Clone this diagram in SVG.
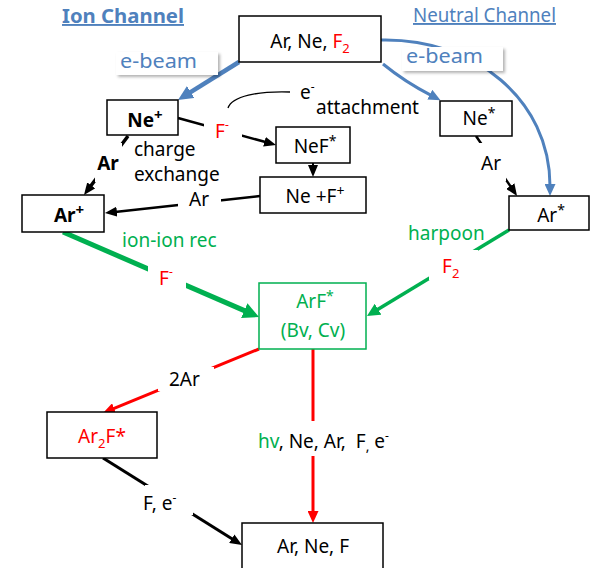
<svg xmlns="http://www.w3.org/2000/svg" width="593" height="568" viewBox="0 0 593 568">
<defs>
<style>
text{font-family:"Noto Sans","Liberation Sans",sans-serif;font-size:19px;fill:#000}
.box{fill:#fff;stroke:#000;stroke-width:1.5}
.gbox{fill:#fff;stroke:#00B050;stroke-width:1.5}
.blue{fill:#4F81BD}
.green{fill:#00B050}
.red{fill:#FF0000}
.c{text-anchor:middle}
.b{font-weight:bold}
.bg{fill:#fff}
.k{fill:none;stroke:#000}
.bl{fill:none;stroke:#4F81BD}
.gr{fill:none;stroke:#00B050}
.rd{fill:none;stroke:#FF0000}
.pre{white-space:pre}
</style>
<filter id="sh" x="-10%" y="-20%" width="130%" height="160%">
<feDropShadow dx="2" dy="2" stdDeviation="1.5" flood-color="#000" flood-opacity="0.3"/>
</filter>
<marker id="mk" markerUnits="userSpaceOnUse" markerWidth="12" markerHeight="10" viewBox="0 0 12 10" refX="2" refY="5" orient="auto"><path d="M0,0 L12,5 L0,10 z" fill="#000"/></marker>
<marker id="mb" markerUnits="userSpaceOnUse" markerWidth="15" markerHeight="14" viewBox="0 0 15 14" refX="2" refY="7" orient="auto"><path d="M0,0 L15,7 L0,14 z" fill="#4F81BD"/></marker>
<marker id="mbs" markerUnits="userSpaceOnUse" markerWidth="12" markerHeight="11" viewBox="0 0 12 11" refX="2" refY="5.5" orient="auto"><path d="M0,0 L12,5.5 L0,11 z" fill="#4F81BD"/></marker>
<marker id="mg" markerUnits="userSpaceOnUse" markerWidth="16" markerHeight="16" viewBox="0 0 16 16" refX="2" refY="8" orient="auto"><path d="M0,0 L16,8 L0,16 z" fill="#00B050"/></marker>
<marker id="mgs" markerUnits="userSpaceOnUse" markerWidth="13" markerHeight="13" viewBox="0 0 13 13" refX="2" refY="6.5" orient="auto"><path d="M0,0 L13,6.5 L0,13 z" fill="#00B050"/></marker>
<marker id="mr" markerUnits="userSpaceOnUse" markerWidth="12" markerHeight="11" viewBox="0 0 12 11" refX="2" refY="5.5" orient="auto"><path d="M0,0 L12,5.5 L0,11 z" fill="#FF0000"/></marker>
</defs>

<g id="titles">
<text x="62" y="23" class="blue b" font-size="20" textLength="122" lengthAdjust="spacingAndGlyphs" text-decoration="underline">Ion Channel</text>
<text x="413" y="22" class="blue" textLength="143" lengthAdjust="spacingAndGlyphs" text-decoration="underline">Neutral Channel</text>
</g>

<g id="connectors">
<path class="bl" stroke-width="4.5" d="M239,62 L189,93.1" marker-end="url(#mb)"/>
<path class="bl" stroke-width="3" d="M383,64 Q405,82 431.6,95.6" marker-end="url(#mbs)"/>
<path class="bl" stroke-width="3" d="M381,40 C475,38 550,100 550,186" marker-end="url(#mbs)"/>
<path class="k" stroke-width="3.5" d="M128,136 L90,187" marker-end="url(#mk)"/>
<path class="k" stroke-width="2.5" d="M178,118 L266.4,142.3" marker-end="url(#mk)"/>
<path class="k" stroke-width="2" d="M313,163 L313,167" marker-end="url(#mk)"/>
<path class="k" stroke-width="2.5" d="M260,196 L114.9,211.9" marker-end="url(#mk)"/>
<path class="k" stroke-width="2.5" d="M476,136 L511.4,187.7" marker-end="url(#mk)"/>
<path class="gr" stroke-width="5" d="M63,232 L246.1,311.4" marker-end="url(#mg)"/>
<path class="gr" stroke-width="3.5" d="M509,230 L376.4,310.3" marker-end="url(#mgs)"/>
<path class="rd" stroke-width="3" d="M259,349 L112.3,409.2" marker-end="url(#mr)"/>
<path class="rd" stroke-width="3" d="M313,349 L313,513" marker-end="url(#mr)"/>
<path class="k" stroke-width="3" d="M103,458 L233.5,539.7" marker-end="url(#mk)"/>
<path class="k" stroke-width="1.3" d="M228,108 C232,96 258,91 290,92"/>
</g>

<g id="labels">
<g id="lbl-ebeam-left">
<rect x="116" y="52" width="102" height="23" class="bg" filter="url(#sh)"/>
<text x="120" y="68" class="blue" font-size="22" textLength="77" lengthAdjust="spacingAndGlyphs">e-beam</text>
</g>
<g id="lbl-ebeam-right">
<rect x="402" y="47" width="101" height="24" class="bg" filter="url(#sh)"/>
<text x="406" y="63" class="blue" font-size="22" textLength="77" lengthAdjust="spacingAndGlyphs">e-beam</text>
</g>
<g id="lbl-attach">
<text x="300" y="99">e<tspan dy="-8" font-size="12">-</tspan></text>
<text x="316" y="114">attachment</text>
</g>
<g id="lbl-ar-bold">
<rect x="95" y="143" width="27" height="39" class="bg"/>
<text x="108" y="170" class="c b">Ar</text>
</g>
<text x="134" y="156">charge</text>
<text x="134" y="181">exchange</text>
<g id="lbl-fminus-1">
<rect x="204" y="114" width="38" height="29" class="bg"/>
<text x="215" y="138" class="red" font-size="20">F<tspan dy="-9" font-size="12">-</tspan></text>
</g>
<g id="lbl-ar-2">
<rect x="178" y="189" width="43" height="24" class="bg"/>
<text x="199" y="206" class="c">Ar</text>
</g>
<g id="lbl-ar-3">
<rect x="478" y="143" width="28" height="38" class="bg"/>
<text x="491" y="170" class="c">Ar</text>
</g>
<text x="122" y="247" class="green">ion-ion rec</text>
<g id="lbl-fminus-2">
<rect x="148" y="263" width="38" height="29" class="bg"/>
<text x="159" y="285" class="red" font-size="20">F<tspan dy="-9" font-size="12">-</tspan></text>
</g>
<text x="408" y="240" class="green">harpoon</text>
<g id="lbl-f2">
<rect x="429" y="250" width="49" height="30" class="bg"/>
<text x="442" y="273" class="red" font-size="20">F<tspan dy="5" font-size="13">2</tspan></text>
</g>
<g id="lbl-2ar">
<rect x="158" y="367" width="56" height="24" class="bg"/>
<text x="169" y="386">2Ar</text>
</g>
<g id="lbl-products">
<rect x="255" y="421" width="150" height="35" class="bg"/>
<text x="258" y="448" class="pre"><tspan class="green">hv</tspan>, Ne, Ar,  F<tspan dy="3" font-size="14">,</tspan><tspan dy="-3"> e</tspan><tspan dy="-8" font-size="12">-</tspan></text>
</g>
<g id="lbl-fe">
<rect x="145" y="485" width="48" height="30" class="bg"/>
<text x="143" y="510">F, e<tspan dy="-8" font-size="12">-</tspan></text>
</g>
</g>

<g id="node-start">
<rect x="239" y="16" width="142" height="46" class="box"/>
<text x="310" y="48" class="c">Ar, Ne, <tspan class="red">F</tspan><tspan class="red" dy="5" font-size="13">2</tspan></text>
</g>
<g id="node-neplus">
<rect x="107" y="100" width="71" height="35" class="box"/>
<text x="145" y="127" class="c b" font-size="20">Ne<tspan dy="-7" font-size="15">+</tspan></text>
</g>
<g id="node-nef">
<rect x="276" y="127" width="74" height="36" class="box"/>
<text x="315" y="153" class="c" font-size="20">NeF<tspan dy="-7" font-size="14">*</tspan></text>
</g>
<g id="node-nefplus">
<rect x="260" y="177" width="106" height="36" class="box"/>
<text x="315" y="203" class="c" font-size="20">Ne +F<tspan dy="-7" font-size="14">+</tspan></text>
</g>
<g id="node-arplus">
<rect x="22" y="195" width="82" height="37" class="box"/>
<text x="69" y="222" class="c b" font-size="20">Ar<tspan dy="-7" font-size="15">+</tspan></text>
</g>
<g id="node-nestar">
<rect x="440" y="101" width="72" height="35" class="box"/>
<text x="479" y="125" class="c" font-size="20">Ne<tspan dy="-7" font-size="14">*</tspan></text>
</g>
<g id="node-arstar">
<rect x="509" y="196" width="80" height="34" class="box"/>
<text x="551" y="222" class="c" font-size="20">Ar<tspan dy="-7" font-size="14">*</tspan></text>
</g>
<g id="node-arf">
<rect x="259" y="283" width="107" height="66" class="gbox"/>
<text x="315" y="308" class="c green" font-size="20">ArF<tspan dy="-7" font-size="14">*</tspan></text>
<text x="313" y="337" class="c green" font-size="20">(Bv, Cv)</text>
</g>
<g id="node-ar2f">
<rect x="47" y="412" width="110" height="46" class="box"/>
<text x="102" y="443" class="c red">Ar<tspan dy="5" font-size="13">2</tspan><tspan dy="-5">F*</tspan></text>
</g>
<g id="node-end">
<rect x="242" y="523" width="141" height="50" class="box"/>
<text x="313" y="553" class="c">Ar, Ne, F</text>
</g>
</svg>
